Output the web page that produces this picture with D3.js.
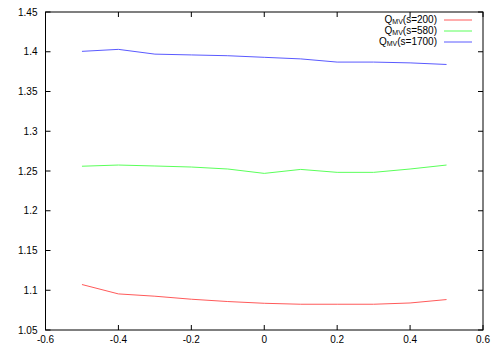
<!DOCTYPE html>
<html><head><meta charset="utf-8">
<script src="https://cdn.jsdelivr.net/npm/d3@7"></script>
<style>body{margin:0;background:#fff}svg{display:block}text{font-family:"Liberation Sans",Arial,sans-serif;font-size:10px;fill:#000}</style>
</head><body>
<script>
const xs = [-0.5,-0.4,-0.3,-0.2,-0.1,0,0.1,0.2,0.3,0.4,0.5];
const s200 = [1.1072,1.0954,1.0925,1.0887,1.0858,1.0836,1.0824,1.0824,1.0824,1.0840,1.0883];
const s580 = [1.2560,1.2575,1.2563,1.2550,1.2525,1.2470,1.2520,1.2483,1.2483,1.2525,1.2575];
const s1700 = [1.4005,1.4030,1.3970,1.3960,1.3950,1.3930,1.3910,1.3870,1.3870,1.3860,1.3840];
const xTicks = [-0.6,-0.4,-0.2,0,0.2,0.4,0.6];
const yTicks = [1.05,1.1,1.15,1.2,1.25,1.3,1.35,1.4,1.45];
const seriesNames = ["s=200","s=580","s=1700"];
const seriesColors = ["#ff5a5a","#5aff5a","#5a5aff"];

const W=500,H=350;
const L=45.5,R=483,T=12,B=330;
const svg=d3.select("body").append("svg").attr("width",W).attr("height",H);
const x=d3.scaleLinear().domain([-0.6,0.6]).range([L,R]);
const y=d3.scaleLinear().domain([1.05,1.45]).range([B,T]);
const fmt=d=>String(d);

const tl=5;
const g=svg.append("g");
xTicks.forEach(t=>{
  g.append("line").attr("x1",x(t)).attr("x2",x(t)).attr("y1",B).attr("y2",B-tl).attr("stroke","#000");
  g.append("line").attr("x1",x(t)).attr("x2",x(t)).attr("y1",T).attr("y2",T+tl).attr("stroke","#000");
  g.append("text").attr("x",x(t)).attr("y",B+13).attr("text-anchor","middle").text(fmt(t));
});
yTicks.forEach(t=>{
  g.append("line").attr("x1",L).attr("x2",L+tl).attr("y1",y(t)).attr("y2",y(t)).attr("stroke","#000");
  g.append("line").attr("x1",R).attr("x2",R-tl).attr("y1",y(t)).attr("y2",y(t)).attr("stroke","#000");
  g.append("text").attr("x",L-8).attr("y",y(t)+3.5).attr("text-anchor","end").text(fmt(t));
});

const line=d3.line().x((d,i)=>x(xs[i])).y(d=>y(d));
[s200,s580,s1700].forEach((s,k)=>{
  svg.append("path").datum(s).attr("d",line).attr("fill","none").attr("stroke",seriesColors[k]).attr("stroke-width",1);
});

svg.append("rect").attr("x",L).attr("y",T).attr("width",R-L).attr("height",B-T).attr("fill","none").attr("stroke","#000").attr("stroke-width",1);

seriesNames.forEach((n,k)=>{
  const yy=20+k*11;
  const t=svg.append("text").attr("x",437).attr("y",yy+2.5).attr("text-anchor","end");
  t.append("tspan").text("Q");
  t.append("tspan").attr("font-size","7px").attr("dy",1.5).text("MV");
  t.append("tspan").attr("dy",-1.5).text("("+n+")");
  svg.append("line").attr("x1",444).attr("x2",472).attr("y1",yy).attr("y2",yy).attr("stroke",seriesColors[k]);
});
</script>
</body></html>
